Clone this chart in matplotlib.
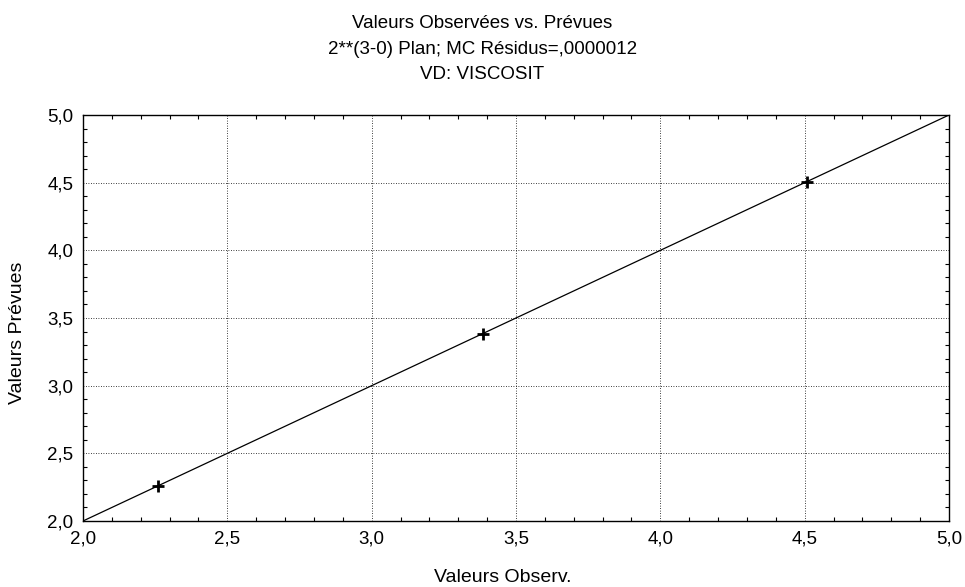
import matplotlib
matplotlib.use("Agg")
import matplotlib.pyplot as plt
from matplotlib.ticker import MultipleLocator, FuncFormatter

observed = [2.26, 3.385, 4.508]
predicted = [2.26, 3.385, 4.508]
line_x = [2.0, 5.0]
line_y = [2.0, 5.0]
title_lines = ["Valeurs Observées vs. Prévues",
               "2**(3-0) Plan; MC Résidus=,0000012",
               "VD: VISCOSIT"]
xlabel = "Valeurs Observ."
ylabel = "Valeurs Prévues"

plt.rcParams['font.family'] = ['Liberation Sans', 'DejaVu Sans']

fig = plt.figure(figsize=(9.65, 5.87), dpi=100)
ax = fig.add_axes([83/965, 1-521/587, (949-83)/965, (521-115)/587])

ax.plot(line_x, line_y, color='black', lw=0.9, zorder=2)
ax.plot(observed, predicted, linestyle='none', marker='+', color='black',
        markersize=9, markeredgewidth=2, zorder=3)

ax.set_xlim(2.0, 5.0)
ax.set_ylim(2.0, 5.0)
fmt = FuncFormatter(lambda v, p: f"{v:.1f}".replace('.', ','))
for axis in (ax.xaxis, ax.yaxis):
    axis.set_major_locator(MultipleLocator(0.5))
    axis.set_minor_locator(MultipleLocator(0.1))
    axis.set_major_formatter(fmt)
ax.tick_params(which='both', direction='in', top=True, right=True,
               labelsize=13.5, width=0.8)
ax.tick_params(which='major', length=0)
ax.tick_params(axis='x', which='major', pad=7)
ax.tick_params(axis='y', which='major', pad=7)
ax.tick_params(which='minor', length=3)
ax.grid(True, which='major', linestyle=(0, (1, 2)), color='black', lw=0.6)
for s in ax.spines.values():
    s.set_linewidth(1.0)

baselines = [28, 53.5, 79]
for t, b in zip(title_lines, baselines):
    fig.text(0.5, 1 - b/587, t, ha='center', va='baseline', fontsize=13.5)
fig.text(503/965, 1 - 582/587, xlabel, ha='center', va='baseline', fontsize=14)
fig.text(17.5/965, 1 - 333/587, ylabel, ha='center', va='center',
         rotation=90, fontsize=14)

fig.savefig("out.png", dpi=100)
